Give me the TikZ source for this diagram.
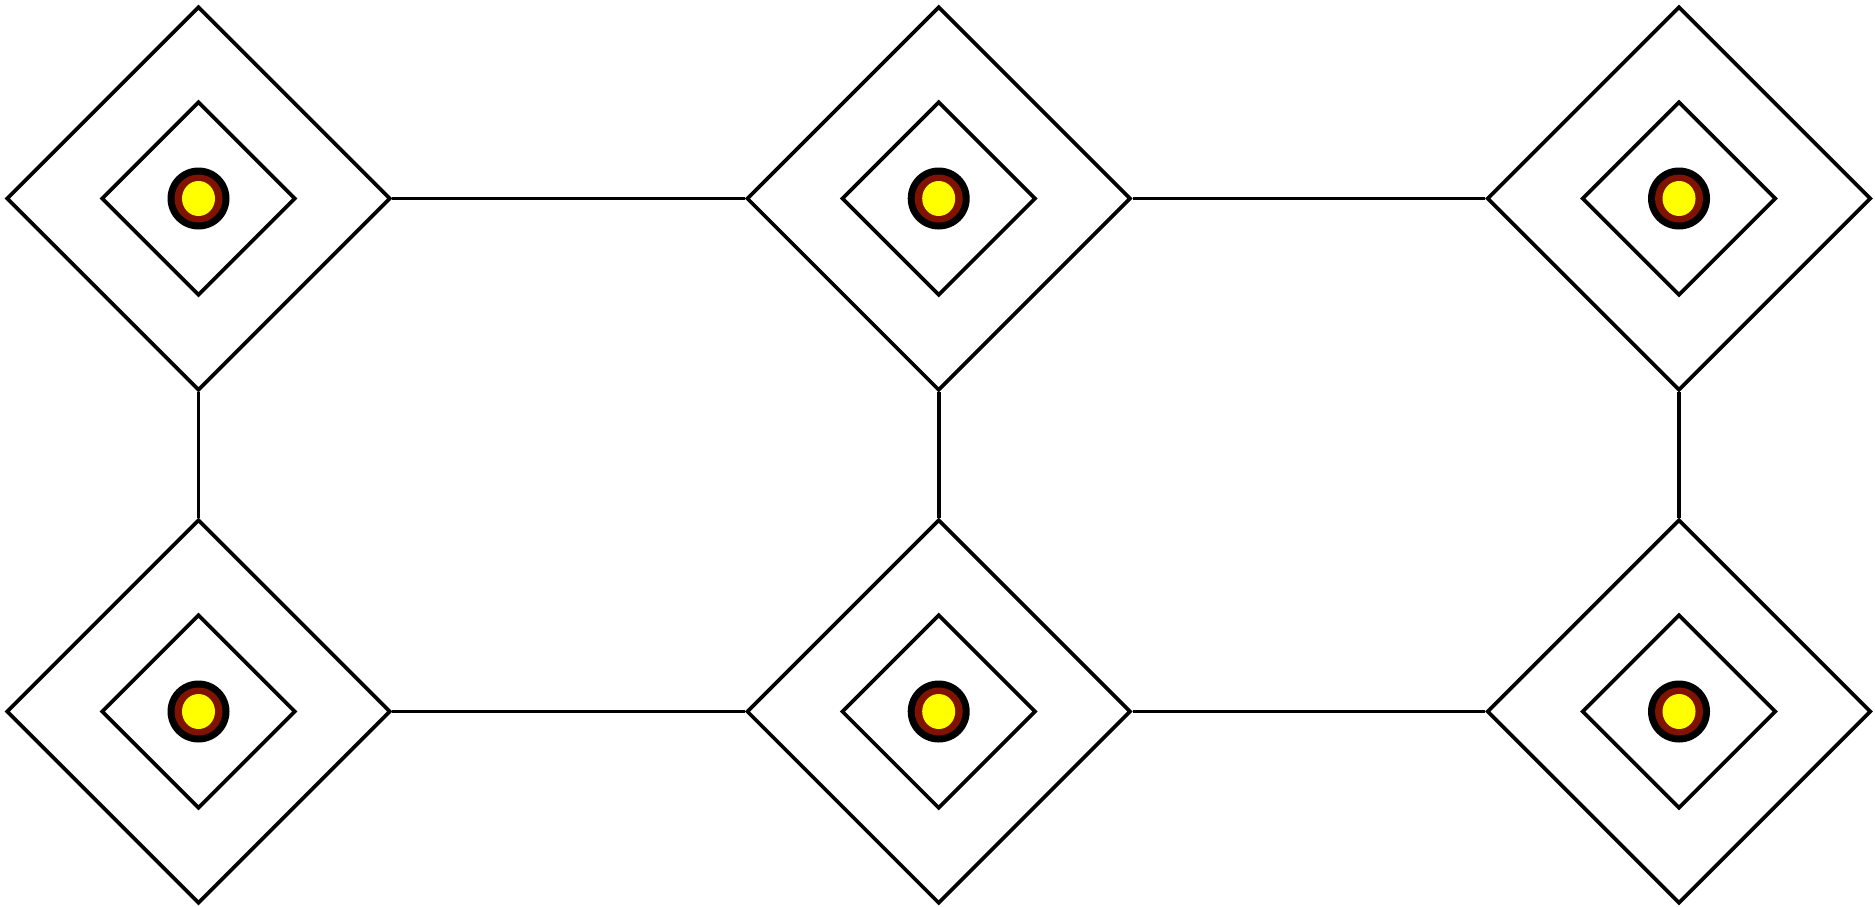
\documentclass[tikz,border=0pt]{standalone}
\usetikzlibrary{shapes.geometric}
\newlength{\du}
\setlength{\du}{0.02cm}
\definecolor{ringcolor}{rgb}{0.500000, 0.070000, 0.000000}
\definecolor{corecolor}{rgb}{1.000000, 1.000000, 0.000000}
\tikzset{
  outerdia/.style={diamond, aspect=1, draw, line width=3.6\du, inner sep=0pt, minimum size=384\du},
  innerdia/.style={diamond, aspect=1, draw, line width=3.6\du, inner sep=0pt, minimum size=194\du},
  wire/.style={line width=3.6\du},
}
% one cell: outer diamond, inner diamond, dot
\newcommand{\cell}[3]{%
  \node[outerdia] (#1) at (#2,#3) {};
  \node[innerdia] (#1in) at (#2,#3) {};
  \fill[black] (#1) circle [radius=31\du];
  \fill[ringcolor] (#1) circle [radius=24\du];
  \fill[corecolor] (#1) ellipse [x radius=16.5\du, y radius=17.5\du];
}
\begin{document}
\begin{tikzpicture}[x=1\du,y=-1\du]
\useasboundingbox (0,0) rectangle (1875,906);
% top row
\cell{ta}{198.5}{198.5}
\cell{tb}{938.7}{198.5}
\cell{tc}{1679}{198.5}
% bottom row
\cell{ba}{198.5}{711.5}
\cell{bb}{938.7}{711.5}
\cell{bc}{1679}{711.5}
% links
\draw[wire] (ta.east)--(tb.west);
\draw[wire] (tb.east)--(tc.west);
\draw[wire] (ba.east)--(bb.west);
\draw[wire] (bb.east)--(bc.west);
\draw[wire] (ta.south)--(ba.north);
\draw[wire] (tb.south)--(bb.north);
\draw[wire] (tc.south)--(bc.north);
\end{tikzpicture}
\end{document}
